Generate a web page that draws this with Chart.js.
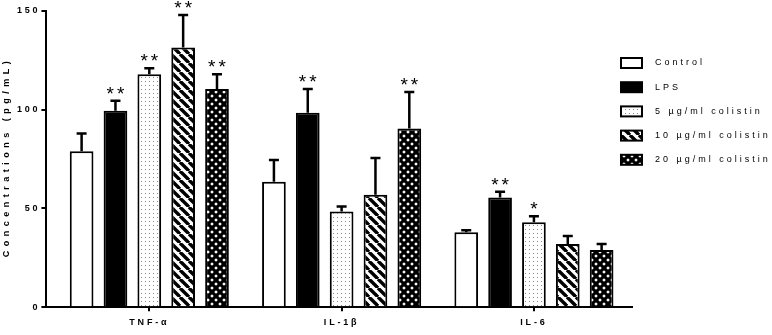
<!DOCTYPE html>
<html>
<head>
<meta charset="utf-8">
<script src="https://cdn.jsdelivr.net/npm/chart.js@4.4.1/dist/chart.umd.min.js"></script>
<style>
html, body { margin: 0; padding: 0; background: #fff; }
</style>
</head>
<body>
<canvas id="cytokineChart" width="772" height="335"></canvas>
<script>
// Data
const categories = ['TNF-α', 'IL-1β', 'IL-6'];
const groupNames = ['Control', 'LPS', '5 µg/ml colistin', '10 µg/ml colistin', '20 µg/ml colistin'];

const controlMean = [79, 63.5, 38];
const controlErr = [9, 11, 1];
const lpsMean = [99.5, 98.5, 55.5];
const lpsErr = [5, 12, 3];
const colistin5Mean = [118, 48.5, 43];
const colistin5Err = [3, 2.5, 3];
const colistin10Mean = [131.5, 57, 32];
const colistin10Err = [16.5, 18.5, 4];
const colistin20Mean = [110.5, 90.5, 29];
const colistin20Err = [7.5, 18.5, 3];

const controlStars = ['', '', ''];
const lpsStars = ['**', '**', '**'];
const colistin5Stars = ['**', '', '*'];
const colistin10Stars = ['**', '', ''];
const colistin20Stars = ['**', '**', ''];

const yTicks = [0, 50, 100, 150];
const yTitle = 'Concentrations (pg/mL)';

// Fill patterns
function makePattern(kind) {
    const c = document.createElement('canvas');
    const size = kind === 'dots' ? 4 : (kind === 'stripes' ? 9 : 8);
    c.width = size;
    c.height = size;
    const p = c.getContext('2d');
    p.fillStyle = '#fff';
    p.fillRect(0, 0, size, size);
    p.strokeStyle = '#000';
    if (kind === 'dots') {
        p.fillStyle = '#8a8a8a';
        p.fillRect(1, 1, 1, 1);
    } else if (kind === 'stripes') {
        p.lineWidth = 3.4;
        for (let k = -1; k <= 1; k++) {
            p.beginPath();
            p.moveTo(k * size, 0);
            p.lineTo(k * size + size, size);
            p.stroke();
        }
    } else if (kind === 'cross') {
        p.lineWidth = 3.2;
        for (let k = -1; k <= 1; k++) {
            p.beginPath();
            p.moveTo(k * size, 0);
            p.lineTo(k * size + size, size);
            p.moveTo(k * size + size, 0);
            p.lineTo(k * size, size);
            p.stroke();
        }
    }
    return p.createPattern(c, 'repeat');
}

const fills = ['#fff', '#000', makePattern('dots'), makePattern('stripes'), makePattern('cross')];
const means = [controlMean, lpsMean, colistin5Mean, colistin10Mean, colistin20Mean];
const errs = [controlErr, lpsErr, colistin5Err, colistin10Err, colistin20Err];
const stars = [controlStars, lpsStars, colistin5Stars, colistin10Stars, colistin20Stars];

const datasets = groupNames.map((name, i) => ({
    label: name,
    data: means[i],
    errors: errs[i],
    stars: stars[i],
    backgroundColor: fills[i],
    borderColor: '#000',
    borderWidth: 2,
    borderSkipped: 'bottom',
    categoryPercentage: 0.88,
    barPercentage: 0.7
}));

// letter spacing like the original figure
const spacing = {
    id: 'spacing',
    beforeLayout(chart) { chart.ctx.letterSpacing = '2.8px'; },
    beforeDraw(chart) { chart.ctx.letterSpacing = '2.8px'; }
};

// error bars + significance stars
const errorBars = {
    id: 'errorBars',
    afterDatasetsDraw(chart) {
        const ctx = chart.ctx;
        const y = chart.scales.y;
        ctx.save();
        ctx.strokeStyle = '#000';
        ctx.fillStyle = '#000';
        ctx.lineWidth = 2.5;
        chart.data.datasets.forEach((ds, i) => {
            const meta = chart.getDatasetMeta(i);
            meta.data.forEach((bar, j) => {
                const top = y.getPixelForValue(ds.data[j] + ds.errors[j]);
                ctx.beginPath();
                ctx.moveTo(bar.x, bar.y);
                ctx.lineTo(bar.x, top);
                ctx.moveTo(bar.x - 5, top);
                ctx.lineTo(bar.x + 5, top);
                ctx.stroke();
                if (ds.stars[j]) {
                    ctx.letterSpacing = '3px';
                    ctx.font = '19px Arial';
                    ctx.textAlign = 'center';
                    ctx.textBaseline = 'alphabetic';
                    ctx.fillText(ds.stars[j], bar.x + 1.5, top - 1);
                }
            });
        });
        ctx.restore();
    }
};

// y title + legend at the right
const sideLegend = {
    id: 'sideLegend',
    afterDraw(chart) {
        const ctx = chart.ctx;
        const area = chart.chartArea;
        ctx.save();
        ctx.fillStyle = '#000';
        ctx.letterSpacing = '4.5px';
        ctx.font = 'bold 9px Arial';
        ctx.textAlign = 'center';
        ctx.textBaseline = 'middle';
        ctx.translate(7, (area.top + area.bottom) / 2);
        ctx.rotate(-Math.PI / 2);
        ctx.fillText(yTitle, 2, 0);
        ctx.restore();

        ctx.save();
        ctx.letterSpacing = '3px';
        ctx.font = '9px Arial';
        ctx.textBaseline = 'middle';
        ctx.textAlign = 'left';
        chart.data.datasets.forEach((ds, i) => {
            const cy = 63 + i * 24.2;
            ctx.fillStyle = ds.backgroundColor;
            ctx.fillRect(621, cy - 5, 21, 10);
            ctx.strokeStyle = '#000';
            ctx.lineWidth = 2;
            ctx.strokeRect(621, cy - 5, 21, 10);
            ctx.fillStyle = '#000';
            ctx.fillText(ds.label, 655, cy);
        });
        ctx.restore();
    }
};

new Chart(document.getElementById('cytokineChart'), {
    type: 'bar',
    data: {
        // numeric positions on a linear x axis, named by the tick callback
        labels: categories.map((c, i) => i),
        datasets: datasets
    },
    options: {
        responsive: false,
        animation: false,
        layout: {
            padding: { top: 11, right: 140, left: 16, bottom: 1 }
        },
        plugins: {
            legend: { display: false },
            tooltip: { enabled: false }
        },
        scales: {
            x: {
                type: 'linear',
                min: -0.535,
                max: 2.51,
                offset: false,
                afterBuildTicks(axis) {
                    axis.ticks = categories.map((c, i) => ({ value: i }));
                },
                grid: {
                    display: true,
                    offset: false,
                    drawOnChartArea: false,
                    drawTicks: true,
                    tickLength: 4,
                    color: '#000',
                    lineWidth: 2
                },
                border: { color: '#000', width: 2 },
                ticks: {
                    color: '#000',
                    font: { family: 'Arial', size: 9, weight: 'bold' },
                    padding: 6,
                    callback: (v) => categories[v]
                }
            },
            y: {
                min: 0,
                max: 150,
                afterBuildTicks(axis) {
                    axis.ticks = yTicks.map(v => ({ value: v }));
                },
                grid: {
                    display: true,
                    drawOnChartArea: false,
                    drawTicks: true,
                    tickLength: 5,
                    color: '#000',
                    lineWidth: 2
                },
                border: { color: '#000', width: 2 },
                ticks: {
                    color: '#000',
                    font: { family: 'Arial', size: 9, weight: 'bold' },
                    padding: 1
                }
            }
        }
    },
    plugins: [spacing, errorBars, sideLegend]
});
</script>
</body>
</html>
